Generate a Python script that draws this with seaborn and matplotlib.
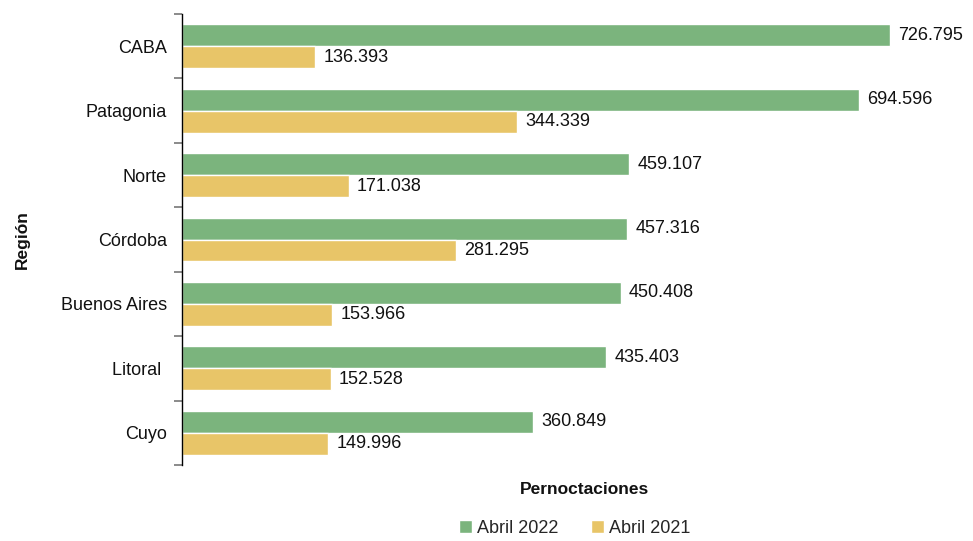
import numpy as np
import pandas as pd
import matplotlib
matplotlib.use("Agg")
import matplotlib.pyplot as plt
import seaborn as sns

#%% DATA
regiones = ["CABA", "Patagonia", "Norte", "Córdoba", "Buenos Aires", "Litoral ", "Cuyo"]
abril_2022 = [726795, 694596, 459107, 457316, 450408, 435403, 360849]
abril_2021 = [136393, 344339, 171038, 281295, 153966, 152528, 149996]
series = ["Abril 2022", "Abril 2021"]
colores = ["#7BB47D", "#E8C568"]

df = pd.DataFrame({
    "Región": regiones * 2,
    "Pernoctaciones": abril_2022 + abril_2021,
    "Periodo": [series[0]] * len(regiones) + [series[1]] * len(regiones),
})

#%% PLOT
sns.set_style("white")
plt.rcParams["font.family"] = ["Liberation Sans", "DejaVu Sans"]

fig = plt.figure(figsize=(9.73, 5.41), dpi=100)
ax = fig.add_axes([0.187, 0.1405, 0.801, 0.8335])

sns.barplot(data=df, y="Región", x="Pernoctaciones", hue="Periodo",
            palette=colores, saturation=1, orient="h", width=0.68, ax=ax,
            edgecolor="white", linewidth=1, legend=True)

def fmt(v):
    return f"{v:,}".replace(",", ".")

for cont, vals in zip(ax.containers, [abril_2022, abril_2021]):
    ax.bar_label(cont, labels=[fmt(v) for v in vals], padding=6, fontsize=13, color="#111111")

ax.set_xlim(0, 800000)
ax.set_ylim(len(regiones) - 0.5, -0.5)

# ticks only on category boundaries
ax.set_yticks(np.arange(len(regiones)))
ax.set_yticklabels(regiones, fontsize=13, color="#111111")
ax.tick_params(axis="y", which="major", length=0, pad=11)
ax.set_yticks(np.arange(len(regiones) + 1) - 0.5, minor=True)
ax.tick_params(axis="y", which="minor", length=6, width=1.2, color="#777777", left=True)
ax.set_xticks([])

for s in ["top", "right", "bottom"]:
    ax.spines[s].set_visible(False)
ax.spines["left"].set_color("black")
ax.spines["left"].set_linewidth(1)

ax.set_ylabel("Región", fontsize=12.5, fontweight="bold", color="#111111")
ax.yaxis.set_label_coords(-0.195, 0.5)
ax.set_xlabel("Pernoctaciones", fontsize=12.5, fontweight="bold", color="#111111")
ax.xaxis.set_label_coords(0.517, -0.038)

handles, labels = ax.get_legend_handles_labels()
ax.legend(handles, labels, loc="center", bbox_to_anchor=(0.504, -0.14), ncol=2,
          frameon=False, fontsize=13, handlelength=0.7, handleheight=0.7,
          handletextpad=0.3, columnspacing=1.8)

plt.savefig("out.png", dpi=100)
